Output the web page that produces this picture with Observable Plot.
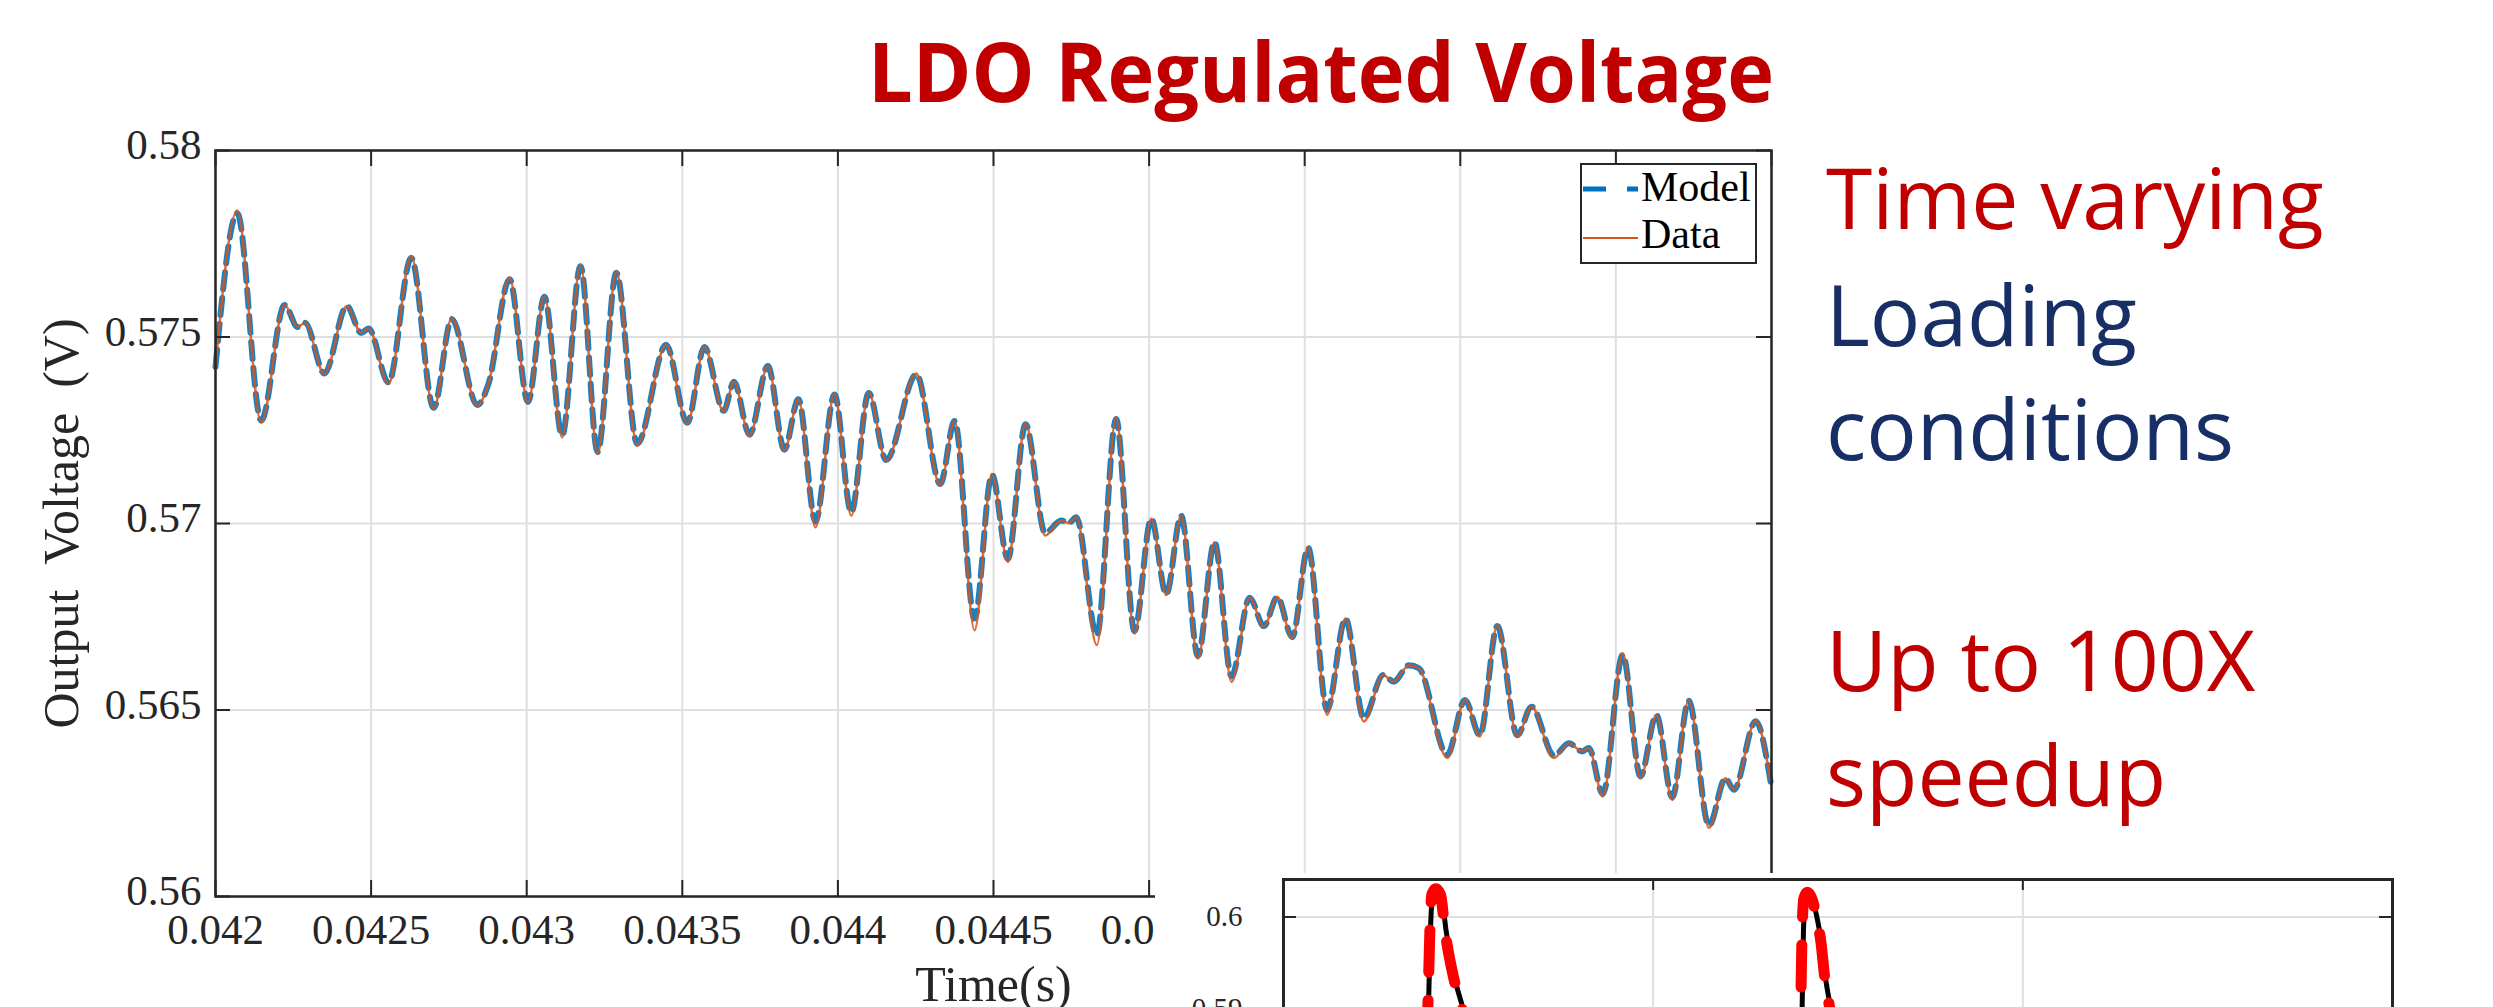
<!DOCTYPE html>
<html><head><meta charset="utf-8">
<script src="https://cdn.jsdelivr.net/npm/d3@7"></script>
<script src="https://cdn.jsdelivr.net/npm/@observablehq/plot@0.6"></script>
<style>
html,body{margin:0;padding:0;background:#fff;}
body{width:2493px;height:1007px;overflow:hidden;position:relative;}
#main{position:absolute;left:0;top:0;}
#legend{position:absolute;left:1580px;top:163px;width:177px;height:101px;box-sizing:border-box;border:2px solid #262626;background:#fff;}
#inset{position:absolute;left:1155px;top:873px;width:1338px;height:134px;background:#fff;overflow:hidden;}
#slide{position:absolute;left:0;top:0;}
svg{max-width:none !important;}
</style></head>
<body>
<div id="main"></div>
<div id="legend"></div>
<div id="inset"></div>
<svg id="slide" width="2493" height="1007"></svg>
<script>
// ---------- data ----------
const titleText = "LDO Regulated Voltage";
const sideLines = [
  {text: "Time varying", color: "#C00000"},
  {text: "Loading", color: "#172E66"},
  {text: "conditions", color: "#172E66"},
  {text: "", color: "#C00000"},
  {text: "Up to 100X", color: "#C00000"},
  {text: "speedup", color: "#C00000"}
];
const xLabel = "Time(s)";
const yLabel = "Output\u2002Voltage\u2002(V)";
const seriesNames = ["Model", "Data"];

const xTicks = [0.042, 0.0425, 0.043, 0.0435, 0.044, 0.0445, 0.045, 0.0455, 0.046, 0.0465, 0.047];
const xTickLabelsShown = [0.042, 0.0425, 0.043, 0.0435, 0.044, 0.0445, 0.045]; // the rest sit under the inset
const yTicks = [0.56, 0.565, 0.57, 0.575, 0.58];

const time = [
  0.042000,0.042070,0.042147,0.042222,0.042264,0.042288,0.042350,0.042422,0.042468,0.042492,
  0.042556,0.042629,0.042701,0.042759,0.042841,0.042877,0.042945,0.043004,0.043057,0.043114,
  0.043173,0.043228,0.043288,0.043355,0.043448,0.043516,0.043571,0.043633,0.043666,0.043716,
  0.043775,0.043828,0.043873,0.043928,0.043989,0.044043,0.044099,0.044155,0.044252,0.044329,
  0.044375,0.044439,0.044495,0.044546,0.044603,0.044666,0.044718,0.044742,0.044766,0.044832,
  0.044894,0.044953,0.045007,0.045055,0.045103,0.045157,0.045210,0.045265,0.045323,0.045369,
  0.045412,0.045460,0.045511,0.045572,0.045631,0.045690,0.045752,0.045786,0.045835,0.045867,
  0.045958,0.046015,0.046063,0.046119,0.046183,0.046229,0.046301,0.046349,0.046392,0.046413,
  0.046458,0.046522,0.046579,0.046630,0.046681,0.046734,0.046799,0.046852,0.046879,0.046949,
  0.046997
];
const dataV = [
  0.57420,0.57839,0.57271,0.57586,0.57527,0.57538,0.57400,0.57583,0.57511,0.57523,
  0.57374,0.57717,0.57307,0.57550,0.57316,0.57374,0.57659,0.57324,0.57610,0.57231,
  0.57694,0.57186,0.57676,0.57209,0.57479,0.57267,0.57473,0.57300,0.57380,0.57235,
  0.57422,0.57195,0.57333,0.56990,0.57348,0.57021,0.57351,0.57168,0.57402,0.57102,
  0.57275,0.56714,0.57133,0.56897,0.57268,0.56968,0.57008,0.57001,0.57017,0.56674,
  0.57284,0.56705,0.57013,0.56808,0.57021,0.56638,0.56950,0.56575,0.56801,0.56723,
  0.56803,0.56692,0.56937,0.56487,0.56745,0.56469,0.56594,0.56576,0.56620,0.56612,
  0.56371,0.56527,0.56429,0.56727,0.56429,0.56509,0.56371,0.56411,0.56389,0.56398,
  0.56268,0.56652,0.56317,0.56487,0.56259,0.56527,0.56184,0.56317,0.56286,0.56471,
  0.56308
];
const modelV = [
  0.57420,0.57832,0.57276,0.57586,0.57527,0.57538,0.57402,0.57583,0.57511,0.57523,
  0.57378,0.57712,0.57310,0.57548,0.57318,0.57374,0.57655,0.57326,0.57608,0.57236,
  0.57690,0.57192,0.57672,0.57214,0.57479,0.57270,0.57473,0.57302,0.57380,0.57238,
  0.57422,0.57198,0.57333,0.57005,0.57346,0.57030,0.57350,0.57170,0.57400,0.57106,
  0.57275,0.56745,0.57131,0.56905,0.57266,0.56975,0.57008,0.57001,0.57017,0.56700,
  0.57280,0.56712,0.57013,0.56810,0.57021,0.56645,0.56950,0.56590,0.56801,0.56725,
  0.56803,0.56695,0.56935,0.56500,0.56745,0.56478,0.56594,0.56576,0.56620,0.56612,
  0.56380,0.56527,0.56432,0.56725,0.56432,0.56509,0.56378,0.56411,0.56389,0.56398,
  0.56275,0.56648,0.56322,0.56487,0.56266,0.56525,0.56190,0.56317,0.56286,0.56470,
  0.56308
];

// inset chart (partially visible)
const insetXTicks = [1, 2];
const insetYTicks = [0.56, 0.57, 0.58, 0.59, 0.6];
const insetYLabels = [0.59, 0.6];
const blackU = [0.30,0.3814,0.3922,0.3976,0.4030,0.4138,0.4274,0.4395,0.4625,0.4842,0.5193,0.90,
                1.3903,1.4030,1.4066,1.4120,1.4214,1.4336,1.4444,1.4552,1.4660,1.4796,1.5066,1.90];
const blackV = [0.556,0.580,0.5902,0.5986,0.6022,0.6028,0.6022,0.5986,0.5934,0.5902,0.5844,0.556,
                0.580,0.5902,0.5986,0.6016,0.6022,0.6015,0.5997,0.5972,0.5934,0.5902,0.5844,0.556];
const redU = [0.30,0.3790,0.3905,0.3960,0.4015,0.4120,0.4250,0.4365,0.4600,0.4815,0.5165,0.90,
              1.3860,1.3990,1.4030,1.4075,1.4170,1.4310,1.4430,1.4540,1.4640,1.4770,1.5040,1.90];
const redV = [0.556,0.580,0.5902,0.5986,0.6025,0.6031,0.6024,0.5986,0.5934,0.5902,0.5844,0.556,
              0.580,0.5902,0.5986,0.6020,0.6027,0.6018,0.5997,0.5972,0.5934,0.5902,0.5844,0.556];

// ---------- tables ----------
const rows = time.map((t, i) => ({t, data: dataV[i], model: modelV[i]}));
const black = blackU.map((u, i) => ({u, v: blackV[i]}));
const red = redU.map((u, i) => ({u, v: redV[i]}));

const fmtX = d => String(+d.toFixed(4));
const fmtY = d => String(+d.toFixed(3));
const fmtI = d => String(+d.toFixed(2));

// ---------- main chart ----------
const W = 1800, H = 1007, ML = 215, MR = 29, MT = 150, MB = 111;
const FW = W - ML - MR, FH = H - MT - MB;
const axisColor = "#262626", gridColor = "#dfdfdf";

const main = Plot.plot({
  width: W, height: H,
  marginLeft: ML, marginRight: MR, marginTop: MT, marginBottom: MB,
  x: {domain: [0.042, 0.047]},
  y: {domain: [0.56, 0.58]},
  style: {fontFamily: "'Liberation Serif', serif", fontSize: "43px", color: axisColor, background: "white"},
  marks: [
    Plot.gridX(xTicks, {stroke: gridColor, strokeOpacity: 1, strokeWidth: 2}),
    Plot.gridY(yTicks, {stroke: gridColor, strokeOpacity: 1, strokeWidth: 2}),
    Plot.line(rows, {x: "t", y: "model", curve: "monotone-x", stroke: "#0072BD", strokeWidth: 6, strokeDasharray: "17,9", strokeOpacity: 0.9}),
    Plot.line(rows, {x: "t", y: "data", curve: "monotone-x", stroke: "#D95319", strokeWidth: 2.5, strokeOpacity: 0.85}),
    Plot.frame({stroke: axisColor, strokeWidth: 2.5}),
    Plot.ruleY(yTicks, {stroke: axisColor, strokeWidth: 2, insetRight: FW - 15}),
    Plot.ruleY(yTicks, {stroke: axisColor, strokeWidth: 2, insetLeft: FW - 15}),
    Plot.ruleX(xTicks, {stroke: axisColor, strokeWidth: 2, insetTop: FH - 16}),
    Plot.ruleX(xTicks, {stroke: axisColor, strokeWidth: 2, insetBottom: FH - 16}),
    Plot.axisX(xTickLabelsShown, {tickSize: 0, tickPadding: 17, tickFormat: fmtX, label: null, fontSize: 43}),
    Plot.axisY(yTicks, {tickSize: 0, tickPadding: 14, tickFormat: fmtY, label: null, fontSize: 43, dy: -5}),
    Plot.text([xLabel], {frameAnchor: "bottom", textAnchor: "middle", dy: 104, lineAnchor: "bottom", fontSize: 50, fill: axisColor}),
    Plot.text([yLabel], {frameAnchor: "left", textAnchor: "middle", rotate: -90, dx: -138, lineAnchor: "bottom", fontSize: 50, fill: axisColor})
  ]
});
document.getElementById("main").appendChild(main);

// ---------- legend ----------
const NS = "http://www.w3.org/2000/svg";
function el(tag, attrs, parent, txt) {
  const e = document.createElementNS(NS, tag);
  for (const k in attrs) e.setAttribute(k, attrs[k]);
  if (txt !== undefined) e.textContent = txt;
  parent.appendChild(e);
  return e;
}
const lg = el("svg", {width: 173, height: 97, style: "position:absolute;left:0;top:0"}, document.getElementById("legend"));
el("line", {x1: 1, x2: 56, y1: 24, y2: 24, stroke: "#0072BD", "stroke-width": 5, "stroke-dasharray": "23,21"}, lg);
el("text", {x: 59, y: 36, "font-family": "Liberation Serif", "font-size": 42, fill: "#000"}, lg, seriesNames[0]);
el("line", {x1: 1, x2: 56, y1: 73, y2: 73, stroke: "#D95319", "stroke-width": 2}, lg);
el("text", {x: 59, y: 83, "font-family": "Liberation Serif", "font-size": 42, fill: "#000"}, lg, seriesNames[1]);

// ---------- inset chart ----------
const IW = 1300, IH = 541, IML = 128, IMR = 63, IMT = 6, IMB = 40;
const IFW = IW - IML - IMR, IFH = IH - IMT - IMB;
const inset = Plot.plot({
  width: IW, height: IH,
  marginLeft: IML, marginRight: IMR, marginTop: IMT, marginBottom: IMB,
  x: {domain: [0, 3], axis: null},
  y: {domain: [0.55, 0.6041]},
  style: {fontFamily: "'Liberation Serif', serif", fontSize: "29px", color: axisColor, background: "white"},
  marks: [
    Plot.gridX(insetXTicks, {stroke: gridColor, strokeOpacity: 1, strokeWidth: 2}),
    Plot.gridY(insetYTicks, {stroke: gridColor, strokeOpacity: 1, strokeWidth: 2}),
    Plot.line(black, {x: "u", y: "v", curve: "monotone-x", stroke: "#000", strokeWidth: 5}),
    Plot.line(red, {x: "u", y: "v", curve: "monotone-x", stroke: "#ff0000", strokeWidth: 11, strokeDasharray: "42,28"}),
    Plot.frame({stroke: axisColor, strokeWidth: 3}),
    Plot.ruleX(insetXTicks, {stroke: axisColor, strokeWidth: 2, insetBottom: IFH - 11}),
    Plot.ruleY(insetYTicks, {stroke: axisColor, strokeWidth: 2, insetRight: IFW - 13}),
    Plot.ruleY(insetYTicks, {stroke: axisColor, strokeWidth: 2, insetLeft: IFW - 13}),
    Plot.axisY(insetYLabels, {tickSize: 0, tickPadding: 41, tickFormat: fmtI, label: null, fontSize: 29})
  ]
});
document.getElementById("inset").appendChild(inset);

// ---------- slide text ----------
const slide = document.getElementById("slide");
el("text", {x: 868, y: 102, "font-family": "'Open Sans', sans-serif", "font-weight": 700, "font-size": 83,
  fill: "#C00000", textLength: 906, lengthAdjust: "spacingAndGlyphs"}, slide, titleText);
const baselines = [229, 346, 460, 575, 691, 806];
sideLines.forEach((l, i) => {
  if (l.text) el("text", {x: 1826, y: baselines[i], "font-family": "'Open Sans', sans-serif", "font-size": 84, fill: l.color}, slide, l.text);
});
</script>
</body></html>
